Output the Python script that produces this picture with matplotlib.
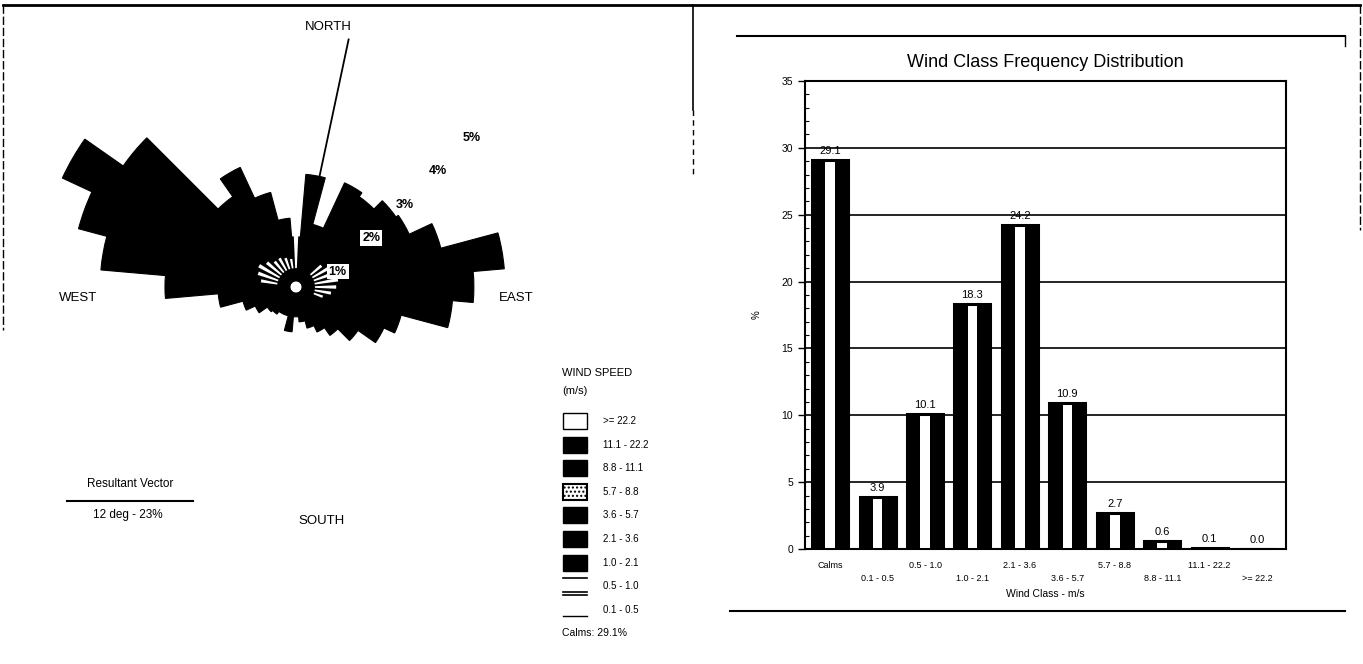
import numpy as np
import matplotlib.pyplot as plt
from matplotlib.patches import Rectangle

plt.rcParams['font.family'] = ['Liberation Sans', 'DejaVu Sans']

# wind rose, 36 sectors of 10 degrees, frequency in percent
directions = np.arange(0, 360, 10)
rose_total = [1.06, 2.39, 1.37, 2.43, 2.33, 2.58, 2.64, 3.17, 4.42, 3.76,
              3.32, 2.30, 2.05, 1.60, 1.25, 1.05, 0.90, 0.74, 0.63, 0.95,
              0.63, 0.63, 0.70, 0.74, 0.95, 1.16, 1.65, 2.77, 4.14, 4.76,
              5.45, 4.46, 2.33, 2.79, 2.07, 1.46]
# light winds (0.5 - 1.0 m/s) drawn open near the centre
rose_light = [0.70, 0.00, 0.00, 0.00, 0.00, 0.30, 0.40, 0.45, 0.50, 0.45,
              0.35, 0.20, 0.00, 0.00, 0.00, 0.00, 0.00, 0.00, 0.00, 0.00,
              0.00, 0.00, 0.00, 0.00, 0.00, 0.00, 0.00, 0.00, 0.35, 0.45,
              0.50, 0.40, 0.30, 0.30, 0.25, 0.20]
rose_rings = [1, 2, 3, 4, 5]
calms_pct = 29.1
vector_dir = 12
vector_pct = 23

speed_classes = ['>= 22.2', '11.1 - 22.2', '8.8 - 11.1', '5.7 - 8.8', '3.6 - 5.7',
                 '2.1 - 3.6', '1.0 - 2.1', '0.5 - 1.0', '0.1 - 0.5']

# frequency distribution by wind class
wind_classes = ['Calms', '0.1 - 0.5', '0.5 - 1.0', '1.0 - 2.1', '2.1 - 3.6',
                '3.6 - 5.7', '5.7 - 8.8', '8.8 - 11.1', '11.1 - 22.2', '>= 22.2']
class_freq = [29.1, 3.9, 10.1, 18.3, 24.2, 10.9, 2.7, 0.6, 0.1, 0.0]

W, H = 1363, 664
fig = plt.figure(figsize=(W / 100, H / 100), dpi=100)

# page overlay in pixel units for frame lines and legend
page = fig.add_axes([0, 0, 1, 1], zorder=-1)
page.set_xlim(0, W)
page.set_ylim(H, 0)
page.axis('off')

page.plot([3, 1360], [5, 5], color='black', lw=2)
page.plot([3, 3], [5, 330], color='black', lw=1, ls=(0, (6, 2)))
page.plot([693, 693], [5, 110], color='black', lw=1.2)
page.plot([693, 693], [110, 175], color='black', lw=1, ls=(0, (4, 3)))
page.plot([1360, 1360], [5, 230], color='black', lw=1, ls=(0, (6, 2)))
page.plot([737, 1345], [36, 36], color='black', lw=1.5)
page.plot([1345, 1345], [36, 46], color='black', lw=1)
page.plot([730, 1345], [611, 611], color='black', lw=1.5)

# ---- wind rose ----
cx, cy, ppp = 296, 287, 47.3   # centre (px) and pixels per percent
rmax = 6.0
rad = rmax * ppp
rose = fig.add_axes([(cx - rad) / W, (H - cy - rad) / H, 2 * rad / W, 2 * rad / H],
                    projection='polar')
rose.set_theta_zero_location('N')
rose.set_theta_direction(-1)
rose.set_ylim(0, rmax)
rose.axis('off')

theta = np.deg2rad(directions)
width = np.deg2rad(10)
calm_r = 0.13
rose.bar(theta, np.array(rose_total) - calm_r, width=width, bottom=calm_r,
         color='black', edgecolor='black', linewidth=0.8)
light = np.array(rose_light)
show = light > 0
rose.bar(theta[show], light[show], width=width * 0.5, bottom=0.4,
         color='white', edgecolor='white', linewidth=0)

# resultant vector
rose.plot([np.deg2rad(vector_dir)] * 2, [0.2, 5.35], color='black', lw=1.3)

for p in rose_rings:
    rose.annotate(f'{p}%', xy=(np.deg2rad(45), p), xytext=(6, -13),
                  textcoords='offset points', ha='center', va='center',
                  fontsize=9, fontweight='bold',
                  bbox=dict(boxstyle='square,pad=0.15', fc='white', ec='none'))

page.text(328, 27, 'NORTH', ha='center', va='center', fontsize=9.5)
page.text(78, 298, 'WEST', ha='center', va='center', fontsize=9.5)
page.text(516, 298, 'EAST', ha='center', va='center', fontsize=9.5)
page.text(322, 521, 'SOUTH', ha='center', va='center', fontsize=9.5)

page.text(130, 484, 'Resultant Vector', ha='center', va='center', fontsize=8.5)
page.plot([67, 193], [501, 501], color='black', lw=1.5)
page.text(128, 515, f'{vector_dir} deg - {vector_pct}%', ha='center', va='center', fontsize=8.5)

# speed legend
page.text(562, 373, 'WIND SPEED', ha='left', va='center', fontsize=8)
page.text(562, 391, '(m/s)', ha='left', va='center', fontsize=8)
row0, step = 421, 23.6
for i, lab in enumerate(speed_classes):
    yc = row0 + i * step
    if i == 0:
        page.add_patch(Rectangle((563, yc - 8), 24, 16, fc='white', ec='black', lw=1))
    elif i == 3:
        page.add_patch(Rectangle((563, yc - 8), 24, 16, fc='white', ec='black', lw=1.5,
                                 hatch='....'))
    elif i == 7:
        page.plot([563, 587], [yc - 8, yc - 8], color='black', lw=1.2)
        page.plot([563, 587], [yc + 6, yc + 6], color='black', lw=1.2)
        page.plot([563, 587], [yc + 9, yc + 9], color='black', lw=1.2)
    elif i == 8:
        page.plot([563, 587], [yc + 6, yc + 6], color='black', lw=1)
    else:
        page.add_patch(Rectangle((563, yc - 8), 24, 16, fc='black', ec='black'))
    page.text(603, yc, lab, ha='left', va='center', fontsize=7)
page.text(562, row0 + 9 * step, f'Calms: {calms_pct}%', ha='left', va='center', fontsize=7.5)

# ---- frequency distribution ----
ax = fig.add_axes([805 / W, 115 / H, 481 / W, 468 / H])
x = np.arange(len(wind_classes))
ax.bar(x, class_freq, width=0.76, color='black', zorder=2)
ax.bar(x, class_freq, width=0.2, color='white', zorder=3)
ax.bar(x, class_freq, width=0.76, fill=False, edgecolor='black', linewidth=2.2, zorder=4)
for xi, v in zip(x, class_freq):
    ax.text(xi, v + 0.3, f'{v:.1f}', ha='center', va='bottom', fontsize=8, zorder=5)

ax.set_xlim(-0.53, 9.61)
ax.set_ylim(0, 35)
ax.set_yticks(np.arange(0, 36, 5))
ax.set_yticks(np.arange(0, 36, 1), minor=True)
ax.tick_params(axis='y', labelsize=7.5, length=5, width=1, direction='out')
ax.tick_params(axis='y', which='minor', length=3, width=0.8, direction='in')
ax.yaxis.grid(True, color='black', lw=1.2)
ax.set_axisbelow(True)
ax.set_xticks(x)
ax.set_xticklabels([lab if i % 2 == 0 else '\n' + lab for i, lab in enumerate(wind_classes)],
                   fontsize=6.5, linespacing=1.5)
ax.tick_params(axis='x', length=0, pad=9)
for s in ax.spines.values():
    s.set_linewidth(1.5)
ax.set_title('Wind Class Frequency Distribution', fontsize=13, pad=10)
ax.set_xlabel('Wind Class - m/s', fontsize=7.5, labelpad=4)
ax.set_ylabel('%', fontsize=7, labelpad=14)

fig.savefig('out.png', dpi=100)
